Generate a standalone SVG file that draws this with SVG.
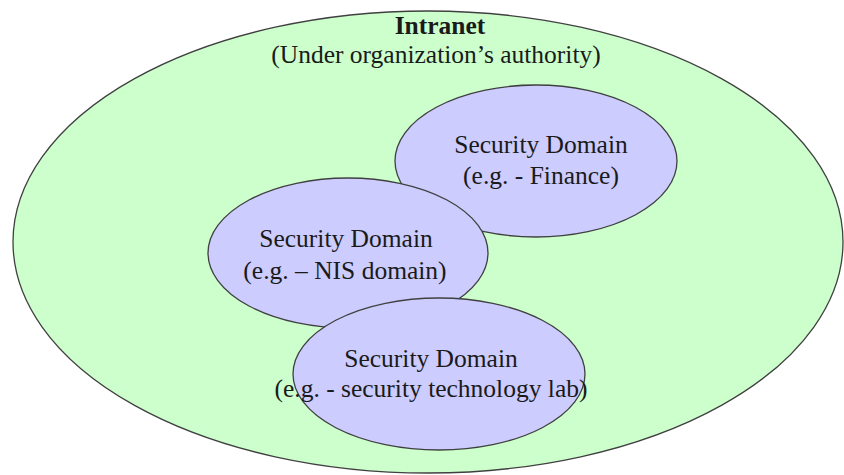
<svg xmlns="http://www.w3.org/2000/svg" width="844" height="475" viewBox="0 0 844 475">
  <style>
    .zone { stroke: #404040; stroke-width: 1.3; }
    .intranet { fill: #ccffcc; }
    .domain { fill: #ccccff; }
    text { font-family: "Liberation Serif", "Times New Roman", serif; font-size: 25.5px; fill: #1a1a1a; text-anchor: middle; }
    .title { font-weight: bold; }
  </style>
  <rect width="844" height="475" fill="#ffffff"/>
  <g id="intranet">
    <ellipse class="zone intranet" cx="428" cy="242" rx="415" ry="231"/>
    <text class="title" x="440" y="34">Intranet</text>
    <text x="436" y="63">(Under organization’s authority)</text>
  </g>
  <g id="domain-finance">
    <ellipse class="zone domain" cx="536" cy="161" rx="141" ry="76"/>
    <text x="541" y="153">Security Domain</text>
    <text x="541" y="184">(e.g. - Finance)</text>
  </g>
  <g id="domain-nis">
    <ellipse class="zone domain" cx="348" cy="253" rx="140" ry="75"/>
    <text x="346" y="247">Security Domain</text>
    <text x="345" y="279">(e.g. – NIS domain)</text>
  </g>
  <g id="domain-lab">
    <ellipse class="zone domain" cx="439" cy="374" rx="146" ry="76"/>
    <text x="431" y="367">Security Domain</text>
    <text x="431" y="397">(e.g. - security technology lab)</text>
  </g>
  <g id="connectors"/>
</svg>
